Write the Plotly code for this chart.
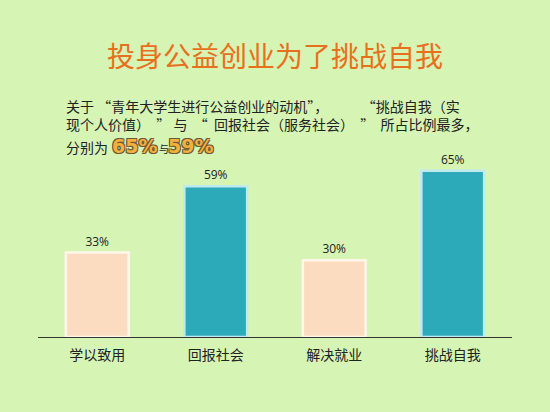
import plotly.graph_objects as go

# 青年大学生公益创业动机
categories = ["学以致用", "回报社会", "解决就业", "挑战自我"]
percent = [33, 59, 30, 65]

title_text = "投身公益创业为了挑战自我"
note_lines = [
    "关于 “青年大学生进行公益创业的动机”，　　    “挑战自我（实",
    "现个人价值）  ” 与  “  回报社会（服务社会）  ”  所占比例最多，",
]
note_prefix = "分别为"
highlight_a = "65%"
highlight_join = "与"
highlight_b = "59%"

W, H = 550, 412
bg = "#d6f4b4"
peach = "#fcdcc0"
teal = "#2caab9"
bar_colors = [peach, teal, peach, teal]
edge_colors = ["#fff6ea", "#bfeaf0", "#fff6ea", "#bfeaf0"]
cjk = "Noto Sans CJK SC"


def px(x):
    return x / W


def py(y):
    return 1 - y / H


fig = go.Figure()
fig.add_trace(go.Bar(
    x=categories, y=percent,
    marker=dict(color=bar_colors, line=dict(color=edge_colors, width=2.5)),
    texttemplate="%{y}%", textposition="outside", cliponaxis=False,
    textfont=dict(family="Open Sans, " + cjk, size=12, color="#222"),
    width=0.53,
))

fig.update_layout(
    width=W, height=H,
    margin=dict(l=0, r=0, t=0, b=0),
    paper_bgcolor=bg, plot_bgcolor=bg,
    showlegend=False,
    font=dict(family=cjk, color="#222"),
    xaxis=dict(domain=[px(38), px(512)], showline=True, linecolor="#333",
               linewidth=1, ticks="", ticklabelstandoff=5,
               tickfont=dict(size=14, color="#222")),
    yaxis=dict(domain=[py(337), py(158)], range=[0, 70], visible=False,
               showgrid=False, zeroline=False),
)

shadow = "-1px -1px 0 #6b5a3a, 1px -1px 0 #6b5a3a, -1px 1px 0 #6b5a3a, 1px 1px 0 #6b5a3a"

anns = [
    dict(text=title_text, x=px(275), y=py(55), xanchor="center",
         font=dict(size=28, color="#e8701c", family=cjk)),
    dict(text="<br>".join(note_lines), x=px(64), y=py(115), xanchor="left",
         align="left", font=dict(size=14, color="#222", family=cjk)),
    dict(text=note_prefix, x=px(64), y=py(147), xanchor="left",
         font=dict(size=14, color="#222", family=cjk)),
    dict(text="<b>" + highlight_a + "</b>", x=px(110), y=py(146), xanchor="left",
         font=dict(size=19, color="#f4b03c", family="DejaVu Sans", shadow=shadow)),
    dict(text=highlight_join, x=px(157), y=py(149), xanchor="left",
         font=dict(size=10, color="#222", family=cjk)),
    dict(text="<b>" + highlight_b + "</b>", x=px(166), y=py(146), xanchor="left",
         font=dict(size=19, color="#f4b03c", family="DejaVu Sans", shadow=shadow)),
]
for a in anns:
    fig.add_annotation(xref="paper", yref="paper", yanchor="middle",
                       showarrow=False, **a)

fig.write_html("out.html", config={"displayModeBar": False},
               post_script="document.body.style.margin='0';")
